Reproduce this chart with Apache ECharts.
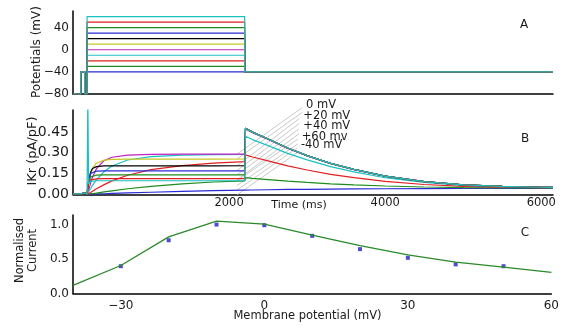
<!DOCTYPE html>
<html><head><meta charset="utf-8">
<script src="https://cdn.jsdelivr.net/npm/echarts@6/dist/echarts.min.js"></script>
<style>html,body{margin:0;padding:0;background:#fff}#c{width:562px;height:328px}</style>
</head><body><div id="c"></div>
<script>
// ---------- data ----------
const voltages = [-40, -30, -20, -10, 0, 10, 20, 30, 40, 50, 60];
const colors = ['#2a2ad6','#1e8c1e','#e02020','#1cc0c0','#c020c0','#c8c820','#000000','#2a2ad6','#1e8c1e','#e02020','#1cc0c0'];

// Panel A: voltage protocol (ms)
const protoTimes = [0, 100, 100, 150, 150, 180, 180, 2200, 2200, 6150];
const holdingV = -80, prepulseV = -40, tailV = -40;

// Panel B: IKr traces (ms, pA/pF)
const timesB = [0,100,120,150,165,180, 190,200,225,250,300,400,500,700,1000,1400,1800,2200, 2210,2300,2500,2750,3000,3300,3600,4000,4500,5000,5500,6000,6150];
const iKr_m40 = [0.003,0.003,0.012,0.010,0.002,0.002, 0.002,0.002,0.002,0.002,0.003,0.004,0.006,0.010,0.015,0.021,0.026,0.030, 0.030,0.031,0.033,0.035,0.036,0.038,0.039,0.040,0.041,0.042,0.043,0.043,0.043];
const iKr_m30 = [0.003,0.003,0.012,0.010,0.002,0.002, 0.002,0.003,0.004,0.006,0.009,0.017,0.025,0.040,0.058,0.076,0.089,0.097, 0.120,0.115,0.106,0.095,0.086,0.076,0.068,0.060,0.053,0.049,0.047,0.046,0.046];
const iKr_m20 = [0.003,0.003,0.012,0.010,0.002,0.002, 0.003,0.005,0.013,0.022,0.040,0.070,0.097,0.138,0.178,0.208,0.226,0.236, 0.285,0.270,0.242,0.206,0.176,0.144,0.120,0.093,0.071,0.058,0.052,0.048,0.048];
const iKr_m10 = [0.003,0.003,0.012,0.010,0.002,0.002, 0.006,0.015,0.040,0.065,0.105,0.165,0.205,0.248,0.273,0.284,0.287,0.288, 0.420,0.396,0.352,0.296,0.249,0.200,0.162,0.120,0.086,0.065,0.055,0.050,0.049];
const iKr_0   = [0.003,0.003,0.012,0.010,0.002,0.002, 0.012,0.030,0.080,0.125,0.185,0.245,0.268,0.284,0.289,0.290,0.290,0.290, 0.472,0.445,0.396,0.332,0.278,0.222,0.179,0.131,0.092,0.068,0.057,0.051,0.050];
const iKr_10  = [0.003,0.003,0.012,0.010,0.002,0.002, 0.025,0.060,0.140,0.190,0.225,0.247,0.253,0.255,0.255,0.255,0.255,0.256, 0.478,0.450,0.400,0.335,0.280,0.224,0.180,0.132,0.092,0.068,0.057,0.051,0.050];
const iKr_20  = [0.003,0.003,0.012,0.010,0.002,0.002, 0.045,0.090,0.160,0.187,0.200,0.205,0.206,0.206,0.206,0.206,0.206,0.207, 0.478,0.450,0.400,0.335,0.280,0.224,0.180,0.132,0.092,0.068,0.057,0.051,0.050];
const iKr_30  = [0.003,0.003,0.012,0.010,0.002,0.002, 0.055,0.100,0.150,0.163,0.168,0.170,0.170,0.170,0.170,0.170,0.170,0.170, 0.478,0.450,0.400,0.335,0.280,0.224,0.180,0.132,0.092,0.068,0.057,0.051,0.050];
const iKr_40  = [0.003,0.003,0.012,0.010,0.002,0.002, 0.055,0.090,0.125,0.135,0.139,0.140,0.140,0.140,0.140,0.140,0.140,0.140, 0.478,0.450,0.400,0.335,0.280,0.224,0.180,0.132,0.092,0.068,0.057,0.051,0.050];
const iKr_50  = [0.003,0.003,0.012,0.010,0.002,0.002, 0.050,0.080,0.105,0.110,0.112,0.113,0.113,0.113,0.113,0.113,0.113,0.114, 0.478,0.450,0.400,0.335,0.280,0.224,0.180,0.132,0.092,0.068,0.057,0.051,0.050];
const iKr_60  = [0.003,0.003,0.012,0.010,0.002,0.002, 0.700,0.075,0.093,0.097,0.098,0.098,0.098,0.098,0.098,0.098,0.098,0.098, 0.478,0.450,0.400,0.335,0.280,0.224,0.180,0.132,0.092,0.068,0.057,0.051,0.050];
const tracesB = [iKr_m40, iKr_m30, iKr_m20, iKr_m10, iKr_0, iKr_10, iKr_20, iKr_30, iKr_40, iKr_50, iKr_60];

// Panel B annotations
const annoLabels = ['0 mV', '+20 mV', '+40 mV', '+60 mv', '-40 mV'];
const annoLabelT = [2985, 2950, 2950, 2930, 2920];
const annoLabelI = [0.648, 0.570, 0.496, 0.418, 0.358];
const annoStartT = [2933, 2895, 2895, 2882, 2869];
const annoStartI = [0.626, 0.546, 0.473, 0.400, 0.335];
const annoEndT = [2100, 2100, 2100, 2100, 2100];
const annoEndI = [0.290, 0.206, 0.140, 0.098, 0.030];
const annoPairGap = 0.035;

// Panel C: normalised current vs membrane potential
const fitV = [-40, -30, -20, -10, 0, 10, 20, 30, 40, 50, 60];
const fitI = [0.12, 0.41, 0.83, 1.06, 1.015, 0.855, 0.70, 0.565, 0.46, 0.385, 0.31];
const expV = [-30, -20, -10, 0, 10, 20, 30, 40, 50];
const expI = [0.40, 0.78, 1.01, 1.00, 0.845, 0.65, 0.523, 0.427, 0.40];

// ---------- chart ----------
const FONT = 'DejaVu Sans';
const TXT = '#1a1a1a';
const minus = v => (v < 0 ? '\u2212' + Math.abs(v) : String(v));
const isMult = (v, s) => Math.abs(v / s - Math.round(v / s)) < 1e-6;
const spine = {show: true, onZero: false, lineStyle: {color: '#000', width: 1.5}};

const chart = echarts.init(document.getElementById('c'), null, {renderer: 'canvas'});

const series = [];
voltages.forEach((v, k) => {
  const levels = [holdingV, holdingV, prepulseV, prepulseV, holdingV, holdingV, v, v, tailV, tailV];
  series.push({type: 'line', xAxisIndex: 0, yAxisIndex: 0, symbol: 'none', silent: true,
    data: protoTimes.map((t, i) => [t, levels[i]]),
    lineStyle: {color: colors[k], width: 1.2}});
});
tracesB.forEach((arr, k) => {
  series.push({type: 'line', xAxisIndex: 1, yAxisIndex: 1, symbol: 'none', silent: true,
    data: timesB.map((t, i) => [t, arr[i]]),
    lineStyle: {color: colors[k], width: 1.2}});
});
annoLabels.forEach((s, k) => {
  [0, annoPairGap].forEach(g => {
    series.push({type: 'line', xAxisIndex: 1, yAxisIndex: 1, symbol: 'none', silent: true, clip: false, z: 1,
      data: [[annoStartT[k], annoStartI[k] - g], [annoEndT[k], annoEndI[k] - g]],
      lineStyle: {color: '#b0b0b0', width: 0.7}});
  });
});
series.push({type: 'line', xAxisIndex: 2, yAxisIndex: 2, symbol: 'none', silent: true,
  data: fitV.map((v, i) => [v, fitI[i]]), lineStyle: {color: '#2a8a2a', width: 1.3}});
series.push({type: 'scatter', xAxisIndex: 2, yAxisIndex: 2, symbol: 'rect', symbolSize: 4, silent: true,
  data: expV.map((v, i) => [v, expI[i]]), itemStyle: {color: '#2020c8'}});

const lbl = (extra) => Object.assign({color: TXT, fontFamily: FONT, fontSize: 12}, extra);

chart.setOption({
  animation: false,
  backgroundColor: '#fff',
  grid: [
    {left: 73, top: 11, width: 480, height: 83},
    {left: 73, top: 110, width: 480, height: 84.3},
    {left: 73, top: 215, width: 480, height: 78.5}
  ],
  xAxis: [
    {gridIndex: 0, type: 'value', min: 0, max: 6150, interval: 2000, axisLine: spine,
     axisTick: {show: false}, splitLine: {show: false}, axisLabel: {show: false}},
    {gridIndex: 1, type: 'value', min: 0, max: 6150, interval: 2000, axisLine: spine,
     axisTick: {show: false}, splitLine: {show: false},
     axisLabel: lbl({fontSize: 11.5, margin: 3, formatter: v => (v > 0 && isMult(v, 2000)) ? String(v) : ''})},
    {gridIndex: 2, type: 'value', min: -40, max: 60, interval: 10, axisLine: spine,
     axisTick: {show: false}, splitLine: {show: false},
     axisLabel: lbl({margin: 6, formatter: v => isMult(v, 30) ? minus(v) : ''})}
  ],
  yAxis: [
    {gridIndex: 0, type: 'value', min: -80, max: 70, interval: 40, axisLine: spine,
     axisTick: {show: false}, splitLine: {show: false},
     axisLabel: lbl({margin: 4, formatter: v => isMult(v, 40) ? minus(v) : ''})},
    {gridIndex: 1, type: 'value', min: 0, max: 0.61, interval: 0.15, axisLine: spine,
     axisTick: {show: false}, splitLine: {show: false},
     axisLabel: lbl({fontSize: 14, margin: 4, formatter: v => (isMult(v, 0.15) && v < 0.5) ? v.toFixed(2) : ''})},
    {gridIndex: 2, type: 'value', min: 0, max: 1.15, interval: 0.5, axisLine: spine,
     axisTick: {show: false}, splitLine: {show: false},
     axisLabel: lbl({margin: 4, formatter: v => isMult(v, 0.5) ? v.toFixed(1) : ''})}
  ],
  series: series
});

const gtext = (text, x, y, size, opts) => Object.assign({type: 'text', x: x, y: y, silent: true,
  style: {text: text, fill: TXT, fontFamily: FONT, fontSize: size, align: 'center', verticalAlign: 'middle', lineHeight: 13}}, opts || {});

const graphics = [
  gtext('Potentials (mV)', 37, 52, 12, {rotation: Math.PI / 2}),
  gtext('IKr (pA/pF)', 33, 151, 13, {rotation: Math.PI / 2}),
  gtext('Normalised\nCurrent', 27, 250.5, 11.5, {rotation: Math.PI / 2}),
  gtext('Time (ms)', 299, 205.5, 11),
  gtext('Membrane potential (mV)', 307.5, 316.5, 11.5),
  gtext('A', 524, 25, 12),
  gtext('B', 525, 139, 12),
  gtext('C', 525, 233, 12)
];
annoLabels.forEach((s, k) => {
  const p = chart.convertToPixel({gridIndex: 1}, [annoLabelT[k], annoLabelI[k]]);
  graphics.push({type: 'text', x: p[0], y: p[1], silent: true,
    style: {text: s, fill: TXT, fontFamily: FONT, fontSize: 11.5, align: 'left', verticalAlign: 'middle'}});
});
chart.setOption({graphic: graphics});
</script>
</body></html>
